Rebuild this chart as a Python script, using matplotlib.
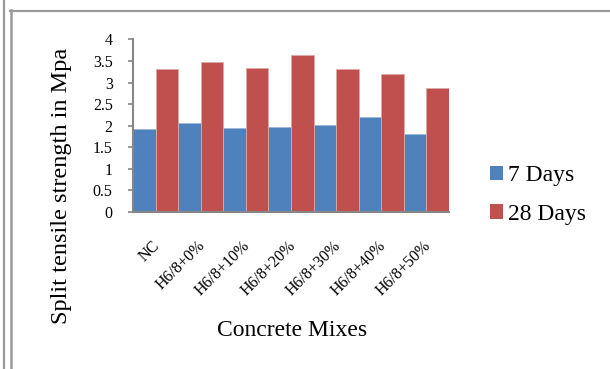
import matplotlib
matplotlib.use("Agg")
import matplotlib.pyplot as plt
import numpy as np
from matplotlib.lines import Line2D
from matplotlib.transforms import ScaledTranslation

plt.rcParams['font.family'] = ['Liberation Serif', 'DejaVu Serif']

mixes = ["NC", "H6/8+0%", "H6/8+10%", "H6/8+20%", "H6/8+30%", "H6/8+40%", "H6/8+50%"]
days7 = [1.92, 2.07, 1.95, 1.96, 2.02, 2.19, 1.80]
days28 = [3.31, 3.48, 3.33, 3.64, 3.31, 3.20, 2.88]
series_labels = ["7 Days", "28 Days"]
yticks = [0, 0.5, 1, 1.5, 2, 2.5, 3, 3.5, 4]
ytick_labels = ["0", "0.5", "1", "1.5", "2", "2.5", "3", "3.5", "4"]

blue = "#4F81BD"
red = "#C0504D"
grey = "#868686"

fig = plt.figure(figsize=(6.10, 3.69), dpi=100)
ax = fig.add_axes([0.218, 0.4263, 0.518, 0.4667])

x = np.arange(len(mixes))
w = 0.5
b1 = ax.bar(x - w / 2, days7, width=w, color=blue, edgecolor="#9DB7DA", linewidth=0.6, label=series_labels[0])
b2 = ax.bar(x + w / 2, days28, width=w, color=red, edgecolor="#E0A9A7", linewidth=0.6, label=series_labels[1])

ax.set_xlim(-0.5, len(mixes) - 0.5)
ax.set_ylim(0, 4)
ax.set_yticks(yticks)
ax.set_yticklabels(ytick_labels, fontsize=11.5)
ax.set_xticks(x)
ax.set_xticklabels(mixes, rotation=45, ha="right", va="center", rotation_mode="anchor", fontsize=11.5)
ax.tick_params(axis="x", length=0, pad=23)
ax.tick_params(axis="y", length=3.6, width=1.2, color=grey, pad=11)
shift = ScaledTranslation(2 / 100, 0, fig.dpi_scale_trans)
for lab in ax.get_xticklabels():
    lab.set_transform(lab.get_transform() + shift)

for side in ["top", "right"]:
    ax.spines[side].set_visible(False)
for side in ["left", "bottom"]:
    ax.spines[side].set_color(grey)
    ax.spines[side].set_linewidth(1.5)

fig.text(62 / 610, 1 - 186 / 369, "Split tensile strength in Mpa", rotation=90,
         ha="center", va="center", fontsize=17.5)
fig.text(292 / 610, 1 - 331 / 369, "Concrete Mixes", ha="center", va="center", fontsize=17)

leg = fig.legend(handles=[b1, b2], labels=series_labels, loc="center left",
                 bbox_to_anchor=(490 / 610, 1 - 195 / 369), frameon=False, fontsize=17,
                 handlelength=0.55, handleheight=0.55, handletextpad=0.2,
                 labelspacing=0.75, borderpad=0, borderaxespad=0)
for h in leg.legend_handles:
    h.set_linewidth(0)

# page frame lines
fig.add_artist(Line2D([4 / 610, 4 / 610], [0, 1], transform=fig.transFigure, color="#9A9A9A", linewidth=1.6))
fig.add_artist(Line2D([10.5 / 610, 10.5 / 610], [0, 1 - 10 / 369], transform=fig.transFigure, color="#9A9A9A", linewidth=1.8))
fig.add_artist(Line2D([10 / 610, 1], [1 - 10.5 / 369, 1 - 10.5 / 369], transform=fig.transFigure, color="#9A9A9A", linewidth=1.6))

fig.savefig("out.png", dpi=100)
